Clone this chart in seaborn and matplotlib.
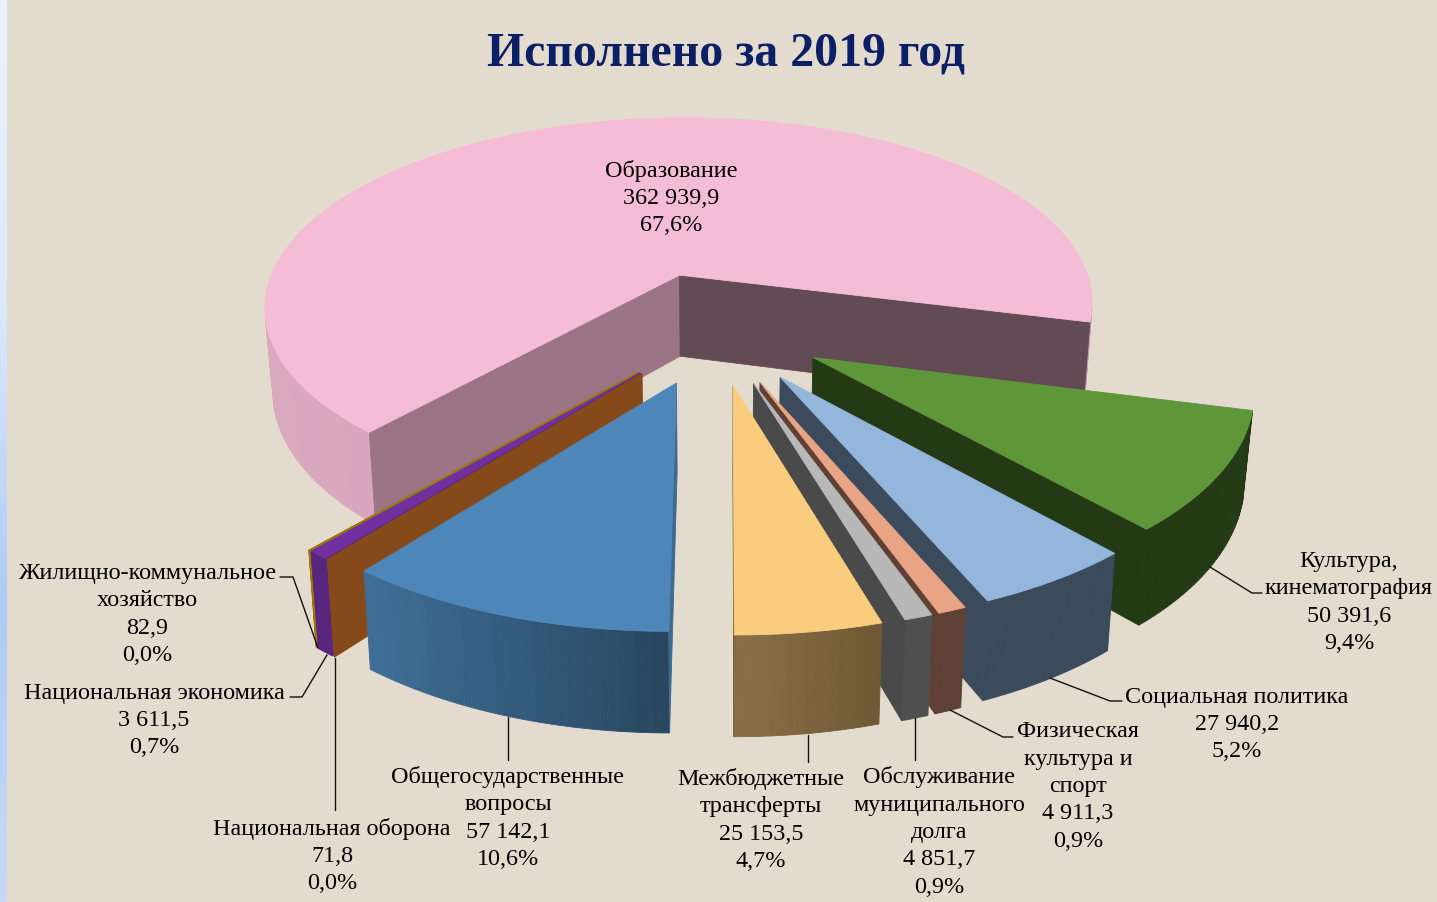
import numpy as np
import matplotlib
matplotlib.use("Agg")
import matplotlib.pyplot as plt
import seaborn as sns

# data
names = ["Образование", "Культура,\nкинематография", "Социальная политика",
         "Физическая\nкультура и\nспорт", "Обслуживание\nмуниципального\nдолга",
         "Межбюджетные\nтрансферты", "Общегосударственные\nвопросы",
         "Национальная оборона", "Национальная экономика",
         "Жилищно-коммунальное\nхозяйство"]
values = [362939.9, 50391.6, 27940.2, 4911.3, 4851.7, 25153.5, 57142.1, 71.8, 3611.5, 82.9]

top_colors = ["#F5BDD5", "#5F963A", "#94B6DD", "#E9A486", "#B8B8B8",
              "#FACC7E", "#4D87BA", "#85491A", "#7030A0", "#9C7A00"]
# rim gradient goes from the first colour (right) to the second (left)
rim_from = ["#C79BAF", "#243A15", "#3C4B5B", "#5F4035", "#4F4F4F",
            "#6F5A35", "#294860", "#85491A", "#58267E", "#9C7A00"]
rim_to = ["#DBA9BF", "#243A15", "#3C4B5B", "#5F4035", "#4F4F4F",
          "#8A7048", "#3F6F98", "#85491A", "#58267E", "#9C7A00"]
side_a0 = ["#9B7585", "#243A15", "#3C4B5B", "#5F4035", "#4A4A4A",
           "#7B6338", "#3F6A90", "#85491A", "#58267E", "#9C7A00"]
side_a1 = ["#634B55", "#243A15", "#3C4B5B", "#5F4035", "#4A4A4A",
           "#7B6338", "#3F6A90", "#85491A", "#58267E", "#9C7A00"]

# drawing order, back to front
draw_order = [0, 1, 2, 3, 4, 5, 9, 8, 7, 6]

# text centres and leaders
label_pos = [(671, 196), (1349, 600), (1237, 722), (1078, 784), (939, 830),
             (761, 818), (508, 816), (332, 854), (154, 718), (147, 612)]
leaders = [None,
           [(1210, 567), (1252, 593), (1262, 593)],
           [(1050, 678), (1110, 701), (1122, 701)],
           [(950, 710), (1003, 737), (1013, 737)],
           [(915, 718), (915, 760)],
           [(808, 735), (808, 762)],
           [(508, 717), (508, 760)],
           [(335, 658), (335, 810)],
           [(327, 655), (302, 697), (290, 697)],
           [(318, 648), (293, 577), (280, 577)]]

# view of the pie
CX, CY = 716, 330
RX, RY = 428, 201
K = 0.018     # bottom of the pie shrinks a bit
H = 85        # thickness
START = 229   # clockwise from here
LINE = 27.4   # label line pitch
explode = [0.30, 0.26, 0.27, 0.27, 0.27, 0.27, 0.27, 0.27, 0.27, 0.27]
persp = [0.17, 0.13, 0.13, 0.13, 0.13, 0.13, 0.13, 0.13, 0.13, 0.13]


def project(x, y, p, z=0.0):
    w = 1 / (1 + p * y)
    return CX + RX * x * w * (1 - K * z), CY - RY * y * w + H * z * w


def area(pts):
    xs = np.array([q[0] for q in pts])
    ys = np.array([q[1] for q in pts])
    return 0.5 * np.sum(xs * np.roll(ys, -1) - np.roll(xs, -1) * ys)


def face(ax, pts, color, lw=0.6):
    if area(pts) < 0:
        ax.fill([q[0] for q in pts], [q[1] for q in pts], color=color, lw=lw)


sns.set_theme(style="white")
plt.rcParams['font.family'] = ['Liberation Serif', 'DejaVu Serif']

fig = plt.figure(figsize=(14.37, 9.02), dpi=100, facecolor="#E3DBCD")
ax = fig.add_axes([0, 0, 1, 1])
ax.set_facecolor("#E3DBCD")

# blue strip on the left
strip = sns.blend_palette(["#EAF2FF", "#DCE9FC", "#AECBF3", "#C6DAF7"], 90)
ax.imshow(np.array(strip)[:, None, :], extent=(0, 7, 902, 0), aspect="auto", zorder=0)

total = sum(values)
sweeps = [v / total * 360 for v in values]
ends = START - np.cumsum(sweeps)
starts = np.r_[START, ends[:-1]]

for i in draw_order:
    a0, a1 = starts[i], ends[i]
    p = persp[i]
    mid = np.radians((a0 + a1) / 2)
    ox, oy = explode[i] * np.cos(mid), explode[i] * np.sin(mid)
    n = max(2, int(abs(a0 - a1)) + 2)
    t = np.radians(np.linspace(a0, a1, n))
    px = ox + np.cos(t)
    py = oy + np.sin(t)
    top = [project(x, y, p) for x, y in zip(px, py)]
    bot = [project(x, y, p, 1) for x, y in zip(px, py)]
    apex, apex_b = project(ox, oy, p), project(ox, oy, p, 1)

    # the gradient only runs over the part of the rim one can see
    segs = [[top[j], top[j + 1], bot[j + 1], bot[j]] for j in range(n - 1)]
    segs = [s for s in segs if area(s) < 0]
    if segs:
        xs = [s[0][0] for s in segs]
        pal = sns.blend_palette([rim_from[i], rim_to[i]], 32)
        for s in segs:
            k = int((max(xs) - s[0][0]) / (max(xs) - min(xs) + 1e-6) * 31)
            face(ax, s, pal[k])
    face(ax, [apex, top[0], bot[0], apex_b], side_a0[i])
    face(ax, [top[-1], apex, apex_b, bot[-1]], side_a1[i])
    outline = [apex] + top
    ax.fill([q[0] for q in outline], [q[1] for q in outline], color=top_colors[i], lw=0.6)

for i, name in enumerate(names):
    val = f"{values[i]:,.1f}".replace(",", " ").replace(".", ",")
    pct = f"{values[i] / total * 100:.1f}%".replace(".", ",")
    lines = name.split("\n") + [val, pct]
    for j, line in enumerate(lines):
        y = label_pos[i][1] + (j - (len(lines) - 1) / 2) * LINE + 8
        ax.text(label_pos[i][0], y, line, ha="center", va="baseline",
                fontsize=17.4, color="black", zorder=5)
    if leaders[i]:
        ax.plot([q[0] for q in leaders[i]], [q[1] for q in leaders[i]], color="#111111", lw=1.0, zorder=4)

ax.text(726, 53, "Исполнено за 2019 год", ha="center", va="center", fontsize=34.4,
        fontweight="bold", color="#0B1F66", zorder=5)

ax.set_xlim(0, 1437)
ax.set_ylim(902, 0)
ax.axis("off")
fig.savefig("out.png", dpi=100, facecolor=fig.get_facecolor())
